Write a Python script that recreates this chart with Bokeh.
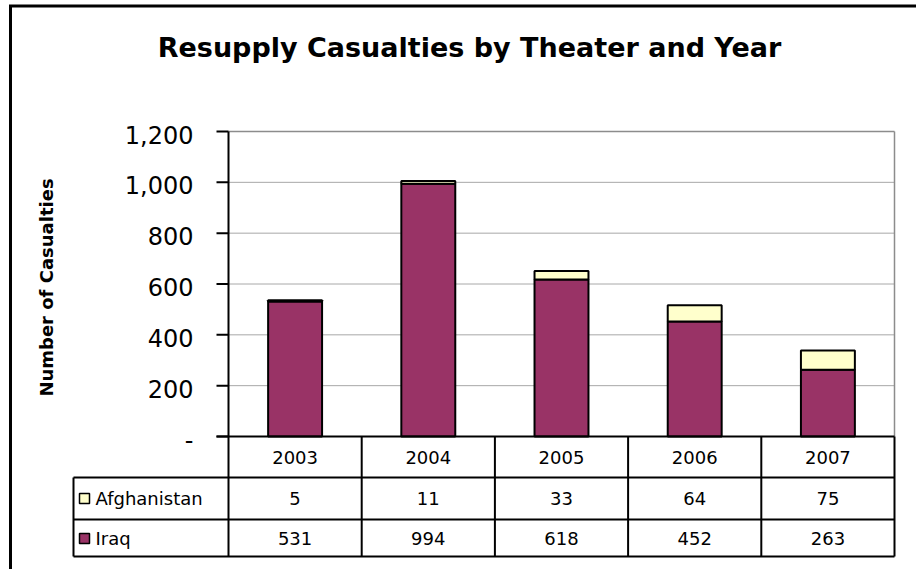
import math
from bokeh.plotting import figure
from bokeh.models import Range1d, ColumnDataSource
from bokeh.core.properties import value
from bokeh.embed import file_html
from bokeh.resources import INLINE

# ---- data ----
years = ["2003", "2004", "2005", "2006", "2007"]
iraq = [531, 994, 618, 452, 263]
afghanistan = [5, 11, 33, 64, 75]
series_names = ["Afghanistan", "Iraq"]
y_ticks = [0, 200, 400, 600, 800, 1000, 1200]
title_text = "Resupply Casualties by Theater and Year"
y_title = "Number of Casualties"

# ---- styles / layout ----
IRAQ_COLOR = "#993366"
AFG_COLOR = "#FFFFCC"
FONT = value("DejaVu Sans")
W, H = 916, 569
CW = 133.2                    # pixels per category
K = 1200.0 / 305.0            # data units per pixel (vertical)
AX_X, ZERO_Y = 228, 436       # pixel position of axis / zero line


def fx(px):
    return (px - AX_X) / CW - 0.5


def fy(py):
    return (ZERO_Y - py) * K


p = figure(width=W, height=H, output_backend="svg", toolbar_location=None,
           x_range=Range1d(fx(0), fx(W)), y_range=Range1d(fy(H), fy(0)),
           min_border=0, outline_line_color=None)
p.axis.visible = False
p.grid.visible = False
p.background_fill_color = "white"
p.border_fill_color = "white"

n = len(years)
xs = list(range(n))
left_edge, right_edge = -0.5, n - 0.5

# outer chart border
p.segment(x0=[fx(10), fx(8.5)], y0=[fy(5.5), fy(5.5)], x1=[fx(10), fx(940)], y1=[fy(600), fy(5.5)],
          line_color="black", line_width=3)

# gridlines (snapped to pixel centres for crisp dots)
grid_vals = [v for v in y_ticks if 0 < v < max(y_ticks)]
p.segment(x0=[left_edge] * len(grid_vals), x1=[right_edge] * len(grid_vals), y0=grid_vals, y1=grid_vals,
          line_color="#505050", line_width=1, line_dash="1 1")
top = max(y_ticks)
p.segment(x0=[left_edge], x1=[right_edge], y0=[top], y1=[top], line_color="#8c8c8c", line_width=1.5)
p.segment(x0=[right_edge], x1=[right_edge], y0=[0], y1=[top], line_color="#8c8c8c", line_width=1.5)

# bars
stack_top = [a + b for a, b in zip(iraq, afghanistan)]
src = ColumnDataSource(dict(x=xs, iraq=iraq, top=stack_top))
p.vbar(x="x", width=0.405, bottom=0, top="iraq", source=src, fill_color=IRAQ_COLOR,
       line_color="black", line_width=2)
p.vbar(x="x", width=0.405, bottom="iraq", top="top", source=src, fill_color=AFG_COLOR,
       line_color="black", line_width=2)

# y axis
p.segment(x0=[left_edge], x1=[left_edge], y0=[0], y1=[top], line_color="black", line_width=2)
p.segment(x0=[fx(216)] * len(y_ticks), x1=[left_edge] * len(y_ticks), y0=y_ticks, y1=y_ticks,
          line_color="black", line_width=2)
tick_labels = ["-" if v == 0 else f"{v:,}" for v in y_ticks]
p.text(x=[fx(193)] * len(y_ticks), y=[v - 3 * K for v in y_ticks], text=tick_labels,
       text_font=FONT, text_font_size="24px", text_align="right", text_baseline="middle",
       text_color="black")

# y title
p.text(x=[fx(46)], y=[fy(287)], text=[y_title], angle=math.pi / 2, text_font=FONT,
       text_font_size="18px", text_font_style="bold", text_align="center", text_baseline="middle")

# title
p.text(x=[fx(469)], y=[fy(47)], text=[title_text], text_font=FONT, text_font_size="27px",
       text_font_style="bold", text_align="center", text_baseline="middle")

# ---- data table ----
row_y = [fy(477), fy(519), fy(556)]
tbl_left = fx(73)
# horizontal lines
p.segment(x0=[fx(216)] + [tbl_left] * 3, x1=[right_edge] * 4, y0=[0] + row_y, y1=[0] + row_y,
          line_color="black", line_width=2)
# vertical lines
vx = [left_edge + i for i in range(n + 1)]
p.segment(x0=vx, x1=vx, y0=[0] * len(vx), y1=[row_y[-1]] * len(vx), line_color="black", line_width=2)
p.segment(x0=[tbl_left], x1=[tbl_left], y0=[row_y[0]], y1=[row_y[-1]], line_color="black", line_width=2)

TFS = "18px"
# header
p.text(x=xs, y=[fy(457)] * n, text=years, text_font=FONT, text_font_size=TFS,
       text_align="center", text_baseline="middle")
# values
p.text(x=xs, y=[fy(498)] * n, text=[str(v) for v in afghanistan], text_font=FONT,
       text_font_size=TFS, text_align="center", text_baseline="middle")
p.text(x=xs, y=[fy(538)] * n, text=[str(v) for v in iraq], text_font=FONT,
       text_font_size=TFS, text_align="center", text_baseline="middle")
# series labels with legend keys
lab_y = [fy(498), fy(538)]
p.rect(x=[fx(84)] * 2, y=lab_y, width=10, height=10, width_units="screen", height_units="screen",
       fill_color=[AFG_COLOR, IRAQ_COLOR], line_color="black", line_width=1.5)
p.text(x=[fx(95)] * 2, y=lab_y, text=series_names, text_font=FONT, text_font_size=TFS,
       text_align="left", text_baseline="middle")

open("out.html", "w").write(file_html(p, INLINE))
